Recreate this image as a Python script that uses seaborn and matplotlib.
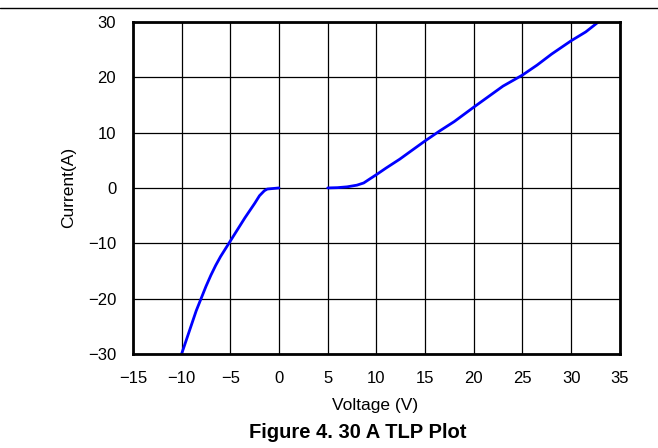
import matplotlib
matplotlib.use("Agg")
import matplotlib.pyplot as plt
import seaborn as sns
import pandas as pd

# Negative branch (voltage V, current A)
neg_voltage = [-10.0, -9.5, -9.0, -8.5, -8.0, -7.5, -7.0, -6.5, -6.0, -5.5, -5.0, -4.5, -4.0, -3.5, -3.0, -2.5, -2.0, -1.5, -1.2, -0.6, 0.0]
neg_current = [-30.0, -27.4, -24.8, -22.2, -20.0, -17.8, -15.8, -14.0, -12.4, -11.0, -9.6, -8.2, -6.8, -5.4, -4.1, -2.8, -1.4, -0.5, -0.2, -0.1, 0.0]

# Positive branch
pos_voltage = [5.0, 6.0, 7.0, 8.0, 8.7, 9.3, 10.0, 11.0, 12.4, 13.5, 15.0, 16.5, 18.0, 20.0, 21.5, 23.0, 25.0, 26.5, 28.0, 30.0, 31.5, 32.8]
pos_current = [0.0, 0.05, 0.2, 0.5, 0.9, 1.6, 2.4, 3.6, 5.2, 6.6, 8.5, 10.3, 12.0, 14.6, 16.5, 18.4, 20.4, 22.2, 24.2, 26.6, 28.2, 30.0]

x_ticks = [-15, -10, -5, 0, 5, 10, 15, 20, 25, 30, 35]
y_ticks = [-30, -20, -10, 0, 10, 20, 30]

df = pd.concat([
    pd.DataFrame({"Voltage": neg_voltage, "Current": neg_current, "branch": "neg"}),
    pd.DataFrame({"Voltage": pos_voltage, "Current": pos_current, "branch": "pos"}),
], ignore_index=True)

sns.set_style("white")
plt.rcParams["font.family"] = ["Liberation Sans", "DejaVu Sans"]
plt.rcParams["text.color"] = "black"
plt.rcParams["axes.labelcolor"] = "black"

fig = plt.figure(figsize=(6.58, 4.48), dpi=100)
ax = fig.add_axes([0.202, 0.210, 0.740, 0.741])

sns.lineplot(data=df, x="Voltage", y="Current", units="branch", estimator=None,
             sort=False, color="#0000FF", linewidth=2.0, ax=ax)

ax.set_xlim(-15, 35)
ax.set_ylim(-30, 30)
ax.set_xticks(x_ticks)
ax.set_yticks(y_ticks)
ax.set_xticklabels([str(v).replace("-", "\u2212") for v in x_ticks])
ax.set_yticklabels([str(v).replace("-", "\u2212") for v in y_ticks])
ax.grid(True, color="black", linewidth=0.9)
ax.set_axisbelow(True)
for s in ax.spines.values():
    s.set_color("black")
    s.set_linewidth(2.0)
ax.tick_params(axis="both", length=0, labelsize=12, pad=12, colors="black",
               labelcolor="black")
ax.set_xlabel("Voltage (V)", fontsize=12.5, color="black")
ax.set_ylabel("Current(A)", fontsize=12.5, color="black")
ax.xaxis.label.set_va("center")
ax.yaxis.label.set_va("center")
ax.xaxis.set_label_coords(0.497, -0.154)
ax.yaxis.set_label_coords(-0.133, 0.5)

fig.text(358 / 658, 1 - 432 / 448, "Figure 4. 30 A TLP Plot", ha="center", va="center",
         fontsize=14.5, fontweight="bold", color="black")
fig.add_artist(plt.Line2D([0, 1], [1 - 8.5 / 448, 1 - 8.5 / 448], color="black",
                          linewidth=1.0, transform=fig.transFigure))

fig.savefig("out.png", dpi=100)
